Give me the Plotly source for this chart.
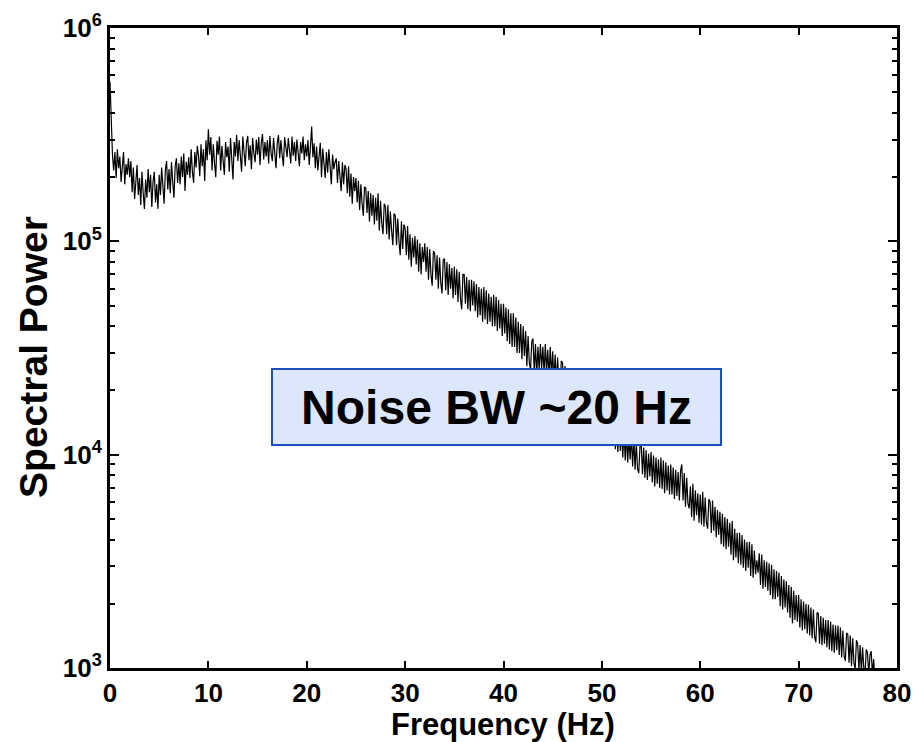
import numpy as np
import plotly.graph_objects as go

# Frequency grid (Hz)
freq_start = 0.0
freq_step = 0.125

# Spectral power, in thousands (8 values per Hz, 0 .. 77.875 Hz)
power_k = [
    560, 360, 255, 215, 262, 198, 270, 220,
    250, 190, 238, 262, 185, 230, 205, 245,
    200, 238, 170, 222, 158, 205, 228, 165,
    198, 148, 212, 168, 142, 195, 160, 218,
    170, 205, 145, 190, 212, 152, 185, 142,
    205, 165, 222, 182, 150, 215, 238, 175,
    218, 168, 235, 190, 160, 225, 245, 188,
    232, 185, 250, 200, 258, 172, 236, 205,
    248, 198, 270, 212, 188, 262, 222, 280,
    252, 202, 285, 225, 270, 192, 298, 240,
    335, 255, 308, 215, 285, 232, 200, 296,
    255, 310, 215, 280, 238, 205, 292, 248,
    278, 212, 305, 240, 195, 292, 250, 315,
    238, 298, 250, 212, 310, 262, 225, 290,
    312, 240, 282, 218, 305, 258, 235, 300,
    255, 308, 228, 288, 318, 242, 292, 250,
    298, 232, 312, 260, 238, 305, 268, 220,
    290, 315, 245, 298, 255, 225, 308, 265,
    248, 305, 262, 232, 310, 252, 292, 238,
    300, 250, 225, 292, 258, 310, 240, 285,
    250, 298, 228, 278, 345, 248, 288, 220,
    278, 215, 262, 290, 200, 272, 232, 198,
    262, 210, 270, 228, 185, 255, 218, 235,
    245, 188, 238, 202, 172, 235, 185, 228,
    218, 168, 225, 162, 208, 150, 200, 172,
    198, 152, 192, 140, 185, 150, 132, 180,
    178, 136, 172, 124, 168, 132, 165, 120,
    160, 125, 168, 112, 155, 122, 108, 150,
    145, 108, 148, 102, 138, 112, 96, 135,
    132, 96, 128, 100, 86, 124, 92, 120,
    115, 86, 118, 82, 108, 76, 104, 84,
    106, 78, 102, 72, 98, 70, 94, 80,
    98, 72, 94, 66, 92, 70, 62, 90,
    88, 66, 86, 60, 84, 64, 57, 82,
    83, 59, 80, 56, 78, 60, 75, 54,
    76, 56, 74, 52, 72, 54, 48, 70,
    70, 51, 68, 48, 66, 47, 66, 50,
    65, 47, 63, 44, 61, 45, 60, 42,
    61, 43, 59, 41, 57, 42, 55, 40,
    56, 40, 55, 38, 53, 39, 51, 36,
    51, 37, 49, 34, 48, 33, 46, 32,
    46, 32, 44, 30, 42, 30, 41, 28,
    40, 29, 38, 26, 36, 27, 25, 34,
    35, 24.5, 33, 23.5, 32, 25, 33, 25.5,
    32, 24, 33, 24.5, 31, 23, 32, 23.5,
    30.5, 22, 29.5, 21, 28.5, 21.5, 20.5, 27.5,
    27, 19.5, 26, 18.5, 25, 19, 18, 24.5,
    23.5, 17, 23, 16.5, 22, 16, 21, 16.2,
    21, 15.2, 20.5, 14.6, 19.6, 14.8, 14.2, 18.8,
    18.8, 13.6, 18.2, 13.2, 17.6, 12.8, 17, 13.3,
    16.8, 12.2, 16.2, 11.7, 15.6, 11.5, 15.2, 11.2,
    15, 11, 14.6, 10.6, 14.1, 10.3, 13.7, 10.4,
    13.2, 9.7, 13, 9.4, 12.6, 9.2, 12.1, 9.5,
    12.4, 8.8, 11.9, 8.5, 11.5, 8.6, 8.2, 11,
    11.2, 8.1, 10.8, 7.8, 10.5, 7.6, 10.1, 7.9,
    10.3, 7.4, 9.9, 7.1, 9.7, 7.3, 9.5, 7,
    9.7, 6.9, 9.4, 6.6, 9.2, 6.8, 8.9, 6.5,
    9, 6.5, 8.7, 6.2, 8.5, 6.4, 8.3, 6.1,
    8.4, 9, 6.1, 8.2, 5.7, 7.8, 5.9, 5.6,
    7.1, 5.1, 7.3, 4.9, 6.8, 5.2, 6.6, 4.8,
    6.5, 4.7, 6.7, 4.6, 6.3, 4.8, 4.5, 6.2,
    6, 4.3, 6.1, 4.4, 5.7, 4.1, 5.5, 4.2,
    5.4, 3.8, 5.3, 3.7, 5.1, 3.6, 5, 3.7,
    4.8, 3.4, 4.9, 3.2, 4.5, 3.3, 4.3, 3.1,
    4.3, 3.05, 4.2, 2.95, 4, 2.85, 3.9, 2.95,
    3.9, 2.7, 3.8, 2.65, 3.55, 2.75, 3.2, 2.8,
    3.45, 2.45, 3.4, 2.35, 3.2, 2.4, 3.15, 2.3,
    3.1, 2.2, 3.05, 2.1, 2.9, 2.1, 2.85, 2.15,
    2.8, 1.95, 2.7, 1.88, 2.6, 1.92, 2.55, 1.82,
    2.45, 1.72, 2.4, 1.62, 2.3, 1.68, 2.2, 1.65,
    2.2, 1.55, 2.1, 1.5, 2.05, 1.52, 2.0, 1.45,
    1.98, 1.42, 1.92, 1.38, 1.88, 1.4, 1.32, 1.82,
    1.8, 1.3, 1.75, 1.28, 1.72, 1.3, 1.68, 1.25,
    1.68, 1.22, 1.65, 1.2, 1.6, 1.18, 1.58, 1.21,
    1.58, 1.15, 1.55, 1.12, 1.5, 1.14, 1.08, 1.46,
    1.44, 1.06, 1.42, 1.02, 1.38, 1.05, 0.99, 1.35,
    1.3, 0.98, 1.28, 0.95, 1.25, 1.0, 0.94, 1.22,
    1.18, 0.92, 1.15, 1.2, 0.93, 1.1, 0.9, 0.88,
]

x_ticks = [0, 10, 20, 30, 40, 50, 60, 70, 80]
y_ticks = [1e3, 1e4, 1e5, 1e6]
y_tick_text = ["10<sup>3</sup>", "10<sup>4</sup>", "10<sup>5</sup>", "10<sup>6</sup>"]
y_minor = [m * 10 ** e for e in (3, 4, 5) for m in range(2, 10)]

x_title = "Frequency (Hz)"
y_title = "Spectral Power"
box_text = "Noise BW ~20 Hz"

power = np.array(power_k) * 1000.0
freq = freq_start + freq_step * np.arange(len(power))

FONT = "Liberation Sans, Arial, Helvetica, sans-serif"

fig = go.Figure()
fig.add_trace(go.Scatter(x=freq, y=power, mode="lines",
                         line=dict(color="black", width=1.2),
                         showlegend=False, hoverinfo="skip"))

axis_common = dict(showline=True, linecolor="black", linewidth=3, mirror="allticks",
                   ticks="inside", tickcolor="black", tickwidth=2,
                   showgrid=False, zeroline=False, automargin=False,
                   tickfont=dict(family=FONT, size=26, color="black", weight="bold"))

fig.update_xaxes(range=[0, 80], tickvals=x_ticks, ticklen=7, **axis_common)
fig.update_yaxes(type="log", range=[3, 6], tickvals=y_ticks, ticktext=y_tick_text,
                 ticklen=9,
                 minor=dict(tickvals=y_minor, ticks="inside", ticklen=5,
                            tickwidth=2, tickcolor="black", showgrid=False),
                 **axis_common)

# the page body has an 8 px margin, so the figure is 8 px smaller than the window
fig.update_layout(
    width=914, height=734,
    margin=dict(l=102, r=25, t=20, b=74),
    paper_bgcolor="white", plot_bgcolor="white",
    annotations=[
        dict(text=box_text, xref="paper", yref="paper", x=0.491, y=0.408,
             xanchor="center", yanchor="middle", showarrow=False,
             width=447, height=74, bgcolor="#dde7fb", bordercolor="#1f4fbf",
             borderwidth=2, borderpad=0,
             font=dict(family=FONT, size=48, color="black", weight="bold")),
        dict(text=x_title, xref="paper", yref="paper", x=0.4994, y=-0.088,
             xanchor="center", yanchor="middle", showarrow=False,
             font=dict(family=FONT, size=31, color="black", weight="bold")),
        dict(text=y_title, xref="paper", yref="paper", x=-0.0966, y=0.486,
             xanchor="center", yanchor="middle", showarrow=False, textangle=-90,
             font=dict(family=FONT, size=39, color="black", weight="bold")),
    ],
)

fig.write_html("out.html")
